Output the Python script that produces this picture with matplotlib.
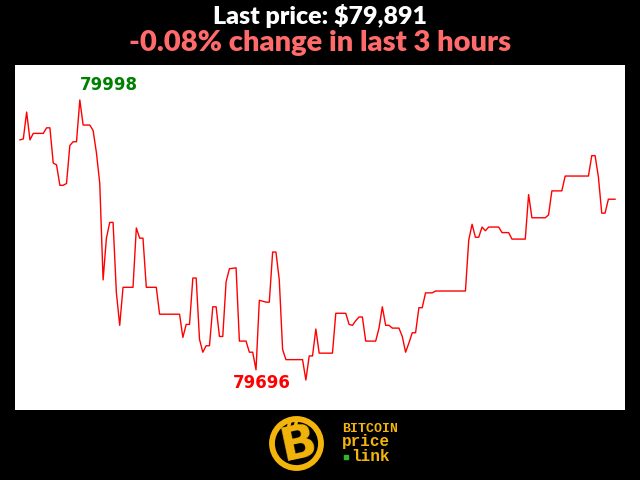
import matplotlib
matplotlib.use("Agg")
import matplotlib.pyplot as plt
from matplotlib.patches import Circle

# minute index within the 3 hour window, and BTC price at each turning point
minutes = [0, 1, 2, 3, 4, 7, 8, 9, 10, 11, 12, 13, 14, 15, 16, 17, 18, 19, 21, 22,
           23, 24, 25, 26, 27, 28, 29, 30, 31, 34, 35, 36, 37, 38, 41, 42, 48, 49, 50, 51,
           52, 53, 54, 55, 56, 57, 58, 59, 60, 61, 62, 63, 65, 66, 68, 69, 70, 71, 72, 74,
           75, 76, 77, 78, 79, 80, 85, 86, 87, 88, 89, 90, 94, 95, 98, 99, 100, 101, 102, 103,
           104, 107, 108, 109, 110, 111, 112, 114, 115, 116, 117, 118, 119, 120, 121, 122, 124, 125, 134, 135,
           136, 137, 138, 139, 140, 141, 144, 145, 147, 148, 152, 153, 154, 158, 159, 160, 163, 164, 171, 172,
           173, 174, 175, 176, 177, 179]
prices = [79955, 79956, 79985, 79955, 79962, 79962, 79968, 79968, 79930, 79928, 79906, 79906, 79908, 79949, 79953, 79953, 79998, 79971, 79971, 79965,
          79941, 79908, 79804, 79849, 79866, 79866, 79790, 79755, 79796, 79796, 79860, 79849, 79849, 79796, 79796, 79767, 79767, 79742, 79756, 79756,
          79806, 79806, 79740, 79726, 79733, 79733, 79775, 79775, 79743, 79743, 79802, 79816, 79817, 79738, 79738, 79726, 79726, 79707, 79782, 79780,
          79780, 79834, 79834, 79804, 79729, 79718, 79718, 79696, 79722, 79722, 79751, 79725, 79725, 79768, 79768, 79756, 79755, 79760, 79764, 79764,
          79738, 79738, 79752, 79775, 79755, 79755, 79752, 79752, 79743, 79726, 79736, 79747, 79747, 79774, 79774, 79790, 79790, 79792, 79792, 79847,
          79864, 79850, 79850, 79861, 79857, 79861, 79861, 79855, 79855, 79848, 79848, 79896, 79871, 79871, 79874, 79900, 79900, 79916, 79916, 79938,
          79938, 79915, 79876, 79876, 79891, 79891]

last_price = 79891
change_pct = -0.08
hours = 3

gold = "#f3b50c"

fig = plt.figure(figsize=(6.4, 4.8), dpi=100, facecolor="black")
ax = fig.add_axes([15 / 640, 70 / 480, 610 / 640, 345 / 480])
ax.set_facecolor("white")
ax.plot(minutes, prices, color="red", linewidth=1)

hi = max(prices)
lo = min(prices)
rng = hi - lo
ax.set_xlim(minutes[0] - 1.5, minutes[-1] + 3)
ax.set_ylim(lo - 0.107 * rng, hi + 0.125 * rng)
ax.set_xticks([])
ax.set_yticks([])
for s in ax.spines.values():
    s.set_visible(False)

i_hi = prices.index(hi)
i_lo = prices.index(lo)
ax.annotate(str(hi), (minutes[i_hi], hi), xytext=(0, 11), textcoords="offset points",
            color="green", fontweight="bold", fontsize=12, ha="left", va="center")
ax.annotate(str(lo), (minutes[i_lo], lo), xytext=(-52.5, -2), textcoords="offset points",
            color="red", fontweight="bold", fontsize=12, ha="left", va="center")

fig.text(0.5, 1 - 16 / 480, f"Last price: ${last_price:,}", color="white",
         family="Lato", fontweight="heavy", fontsize=18, ha="center", va="center")
fig.text(0.5, 1 - 43 / 480, f"{change_pct:.2f}% change in last {hours} hours", color="#ff6b6b",
         family="Lato", fontweight="heavy", fontsize=21, ha="center", va="center")

# logo
lax = fig.add_axes([268 / 640, 8 / 480, 57 / 640, 57 / 480])
lax.set_xlim(-1, 1)
lax.set_ylim(-1, 1)
lax.axis("off")
lax.add_patch(Circle((0, 0), 0.86, fill=False, edgecolor=gold, linewidth=4.2))
lax.text(0.06, -0.04, "B", fontsize=34, fontweight="heavy", color=gold, rotation=12,
         ha="center", va="center")
lax.plot([-0.28, -0.23], [0.58, 0.78], color=gold, linewidth=2.5, solid_capstyle="butt")
lax.plot([-0.04, 0.01], [0.62, 0.82], color=gold, linewidth=2.5, solid_capstyle="butt")

fig.text(342 / 640, 1 - 429 / 480, "BITCOIN", family="Liberation Mono", fontweight="bold",
         fontsize=9.5, color=gold, ha="left", va="center")
fig.text(342 / 640, 1 - 446 / 480, "price", family="Liberation Mono", fontweight="bold",
         fontsize=11.5, color=gold, ha="left", va="baseline")
fig.text(351 / 640, 1 - 461 / 480, "link", family="Liberation Mono", fontweight="bold",
         fontsize=11.5, color=gold, ha="left", va="baseline")
fig.lines.append(plt.Line2D([346 / 640], [1 - 457 / 480], transform=fig.transFigure,
                            marker="s", markersize=3, color="#2fb52f", linestyle=""))

fig.savefig("out.png", facecolor="black")
